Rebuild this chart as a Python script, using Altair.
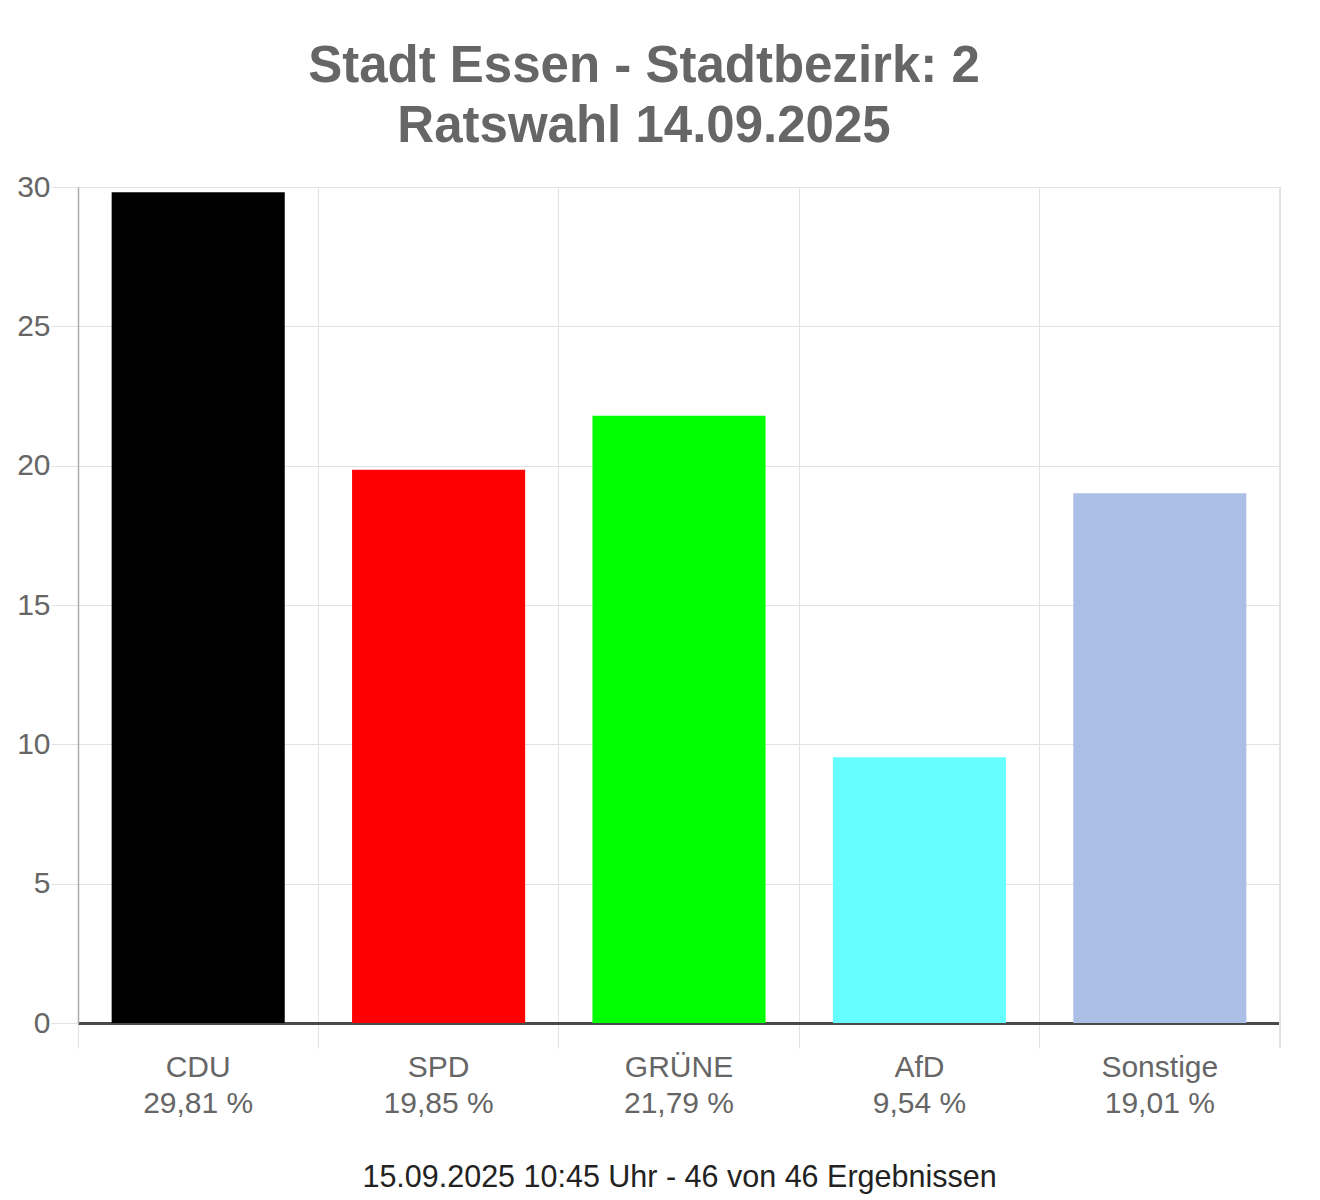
import altair as alt
import pandas as pd

parties = ["CDU", "SPD", "GRÜNE", "AfD", "Sonstige"]
values = [29.81, 19.85, 21.79, 9.54, 19.01]
colors = ["#000000", "#ff0000", "#00ff00", "#66ffff", "#abbfe6"]
title_lines = ["Stadt Essen - Stadtbezirk: 2", "Ratswahl 14.09.2025"]
footer = "15.09.2025 10:45 Uhr - 46 von 46 Ergebnissen"
y_ticks = [0, 5, 10, 15, 20, 25, 30]

labels = [f"{p}|{v:.2f}".replace(".", ",") + " %" for p, v in zip(parties, values)]
df = pd.DataFrame({"party": parties, "value": values, "lab": labels})

W, H = 1202, 836
FONT = "Liberation Sans"

x_enc = alt.X(
    "lab:N",
    sort=labels,
    scale=alt.Scale(paddingInner=0, paddingOuter=0),
    axis=alt.Axis(
        title=footer,
        titleFontSize=30.5,
        titleColor="#222222",
        titleFont=FONT,
        titleFontWeight="normal",
        titlePadding=44,
        bandPosition=0,
        labelExpr="split(datum.label, '|')",
        labelAngle=0,
        labelFontSize=30,
        labelFont=FONT,
        labelColor="#666666",
        labelLineHeight=36,
        labelPadding=4,
        labelOverlap=False,
        labelBound=False,
        grid=True,
        gridColor="#e2e2e2",
        gridWidth=1,
        ticks=True,
        tickSize=25,
        tickColor="#e2e2e2",
        domain=True,
        domainColor="#4a4a4a",
        domainWidth=3,
    ),
)

y_enc = alt.Y(
    "value:Q",
    scale=alt.Scale(domain=[0, 30], nice=False),
    axis=alt.Axis(
        title=None,
        values=y_ticks,
        labelFontSize=30,
        labelFont=FONT,
        labelColor="#666666",
        labelPadding=1,
        tickSize=27,
        tickColor="#e2e2e2",
        grid=True,
        gridColor="#e2e2e2",
        domainColor="#aaaaaa",
        domainWidth=1.5,
    ),
)

bars = alt.Chart(df).mark_bar(width=alt.RelativeBandSize(0.72)).encode(
    x=x_enc,
    y=y_enc,
    color=alt.Color("party:N", scale=alt.Scale(domain=parties, range=colors), legend=None),
)

edge = alt.Chart(df).mark_rule(color="#e2e2e2", strokeWidth=1).encode(
    x=alt.value(W), y=alt.value(0), y2=alt.value(H + 25)
)

chart = (
    alt.layer(bars, edge)
    .properties(
        width=W,
        height=H,
        title=alt.TitleParams(
            title_lines,
            fontSize=51,
            font=FONT,
            fontWeight="bold",
            color="#666666",
            anchor="middle",
            dx=-35,
            offset=19,
            lineHeight=60,
        ),
        autosize=alt.AutoSizeParams(type="none"),
        padding={"left": 70, "top": 179, "right": 32, "bottom": 180},
    )
    .configure_view(stroke="#e2e2e2", strokeWidth=1)
)

chart.save("out.html", embed_options={"renderer": "svg", "actions": False})
